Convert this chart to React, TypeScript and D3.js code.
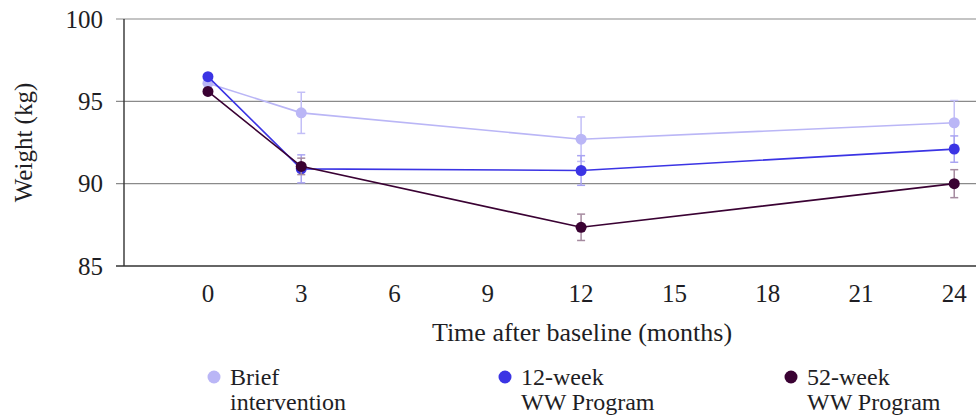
import * as d3 from "d3";
import React from "react";

// months after baseline
const months = [0, 3, 12, 24];
const xTicks = [0, 3, 6, 9, 12, 15, 18, 21, 24];
const yTicks = [85, 90, 95, 100];

// mean weight (kg) and error half-widths
const briefMean = [96.1, 94.3, 92.7, 93.7];
const briefErr = [0, 1.25, 1.35, 1.35];
const week12Mean = [96.5, 90.9, 90.8, 92.1];
const week12Err = [0, 0.85, 0.9, 0.8];
const week52Mean = [95.6, 91.05, 87.35, 90.0];
const week52Err = [0, 0.5, 0.8, 0.85];

const seriesNames = ["Brief\nintervention", "12-week\nWW Program", "52-week\nWW Program"];
const colors = ["#bab6f6", "#3b34e4", "#3a0233"];
const errColors = ["#c3bff7", "#a9a4f2", "#a58a9f"];

const W = 976;
const H = 417;
const font = "'Liberation Serif', 'DejaVu Serif', serif";

export default function App() {
  const m = { top: 19, right: 0, bottom: 151, left: 124 };
  const x = d3.scaleLinear().domain([-2.7, 24.7]).range([m.left, W - m.right]);
  const y = d3.scaleLinear().domain([85, 100]).range([H - m.bottom, m.top]);

  const series = [
    { mean: briefMean, err: briefErr },
    { mean: week12Mean, err: week12Err },
    { mean: week52Mean, err: week52Err },
  ];

  const line = d3
    .line<number>()
    .x((_, i) => x(months[i]))
    .y((d) => y(d));

  const legendX = [214, 505, 791];

  return (
    <svg
      width={W}
      height={H}
      style={{ position: "absolute", left: 0, top: 0, fontFamily: font }}
    >
      {/* y grid + labels */}
      {yTicks.map((t) => (
        <g key={t}>
          <line x1={m.left - 8} x2={W} y1={y(t)} y2={y(t)} stroke={t === 85 ? "#333" : "#8a8a8a"} strokeWidth={t === 85 ? 1.6 : 1.2} />
          <text x={m.left - 21} y={y(t)} dy="0.35em" textAnchor="end" fontSize={25} fill="#1e1e24">
            {t}
          </text>
        </g>
      ))}
      <line x1={m.left} x2={m.left} y1={y(100)} y2={y(85)} stroke="#333" strokeWidth={1.4} />

      {/* x labels */}
      {xTicks.map((t) => (
        <text key={t} x={x(t)} y={y(85) + 36} textAnchor="middle" fontSize={25} fill="#1e1e24">
          {t}
        </text>
      ))}

      <text x={582} y={y(85) + 75} textAnchor="middle" fontSize={26} fill="#1e1e24">
        Time after baseline (months)
      </text>
      <text
        transform={`translate(${32},${(y(100) + y(85)) / 2}) rotate(-90)`}
        textAnchor="middle"
        fontSize={25}
        fill="#1e1e24"
      >
        Weight (kg)
      </text>

      {/* series */}
      {series.map((s, si) => (
        <g key={si}>
          {s.mean.map((v, i) =>
            s.err[i] > 0 ? (
              <g key={i} stroke={errColors[si]} strokeWidth={1.5}>
                <line x1={x(months[i])} x2={x(months[i])} y1={y(v + s.err[i])} y2={y(v - s.err[i])} />
                <line x1={x(months[i]) - 4} x2={x(months[i]) + 4} y1={y(v + s.err[i])} y2={y(v + s.err[i])} />
                <line x1={x(months[i]) - 4} x2={x(months[i]) + 4} y1={y(v - s.err[i])} y2={y(v - s.err[i])} />
              </g>
            ) : null
          )}
          <path d={line(s.mean) ?? undefined} fill="none" stroke={colors[si]} strokeWidth={1.6} />
          {s.mean.map((v, i) => (
            <circle key={i} cx={x(months[i])} cy={y(v)} r={5.5} fill={colors[si]} />
          ))}
        </g>
      ))}

      {/* legend */}
      {seriesNames.map((name, i) => (
        <g key={name} transform={`translate(${legendX[i]},0)`}>
          <circle cx={0} cy={377} r={6.5} fill={colors[i]} />
          <text x={16} y={385} fontSize={24} fill="#1e1e24">
            {name.split("\n").map((ln, j) => (
              <tspan key={j} x={16} dy={j === 0 ? 0 : 25}>
                {ln}
              </tspan>
            ))}
          </text>
        </g>
      ))}
    </svg>
  );
}
